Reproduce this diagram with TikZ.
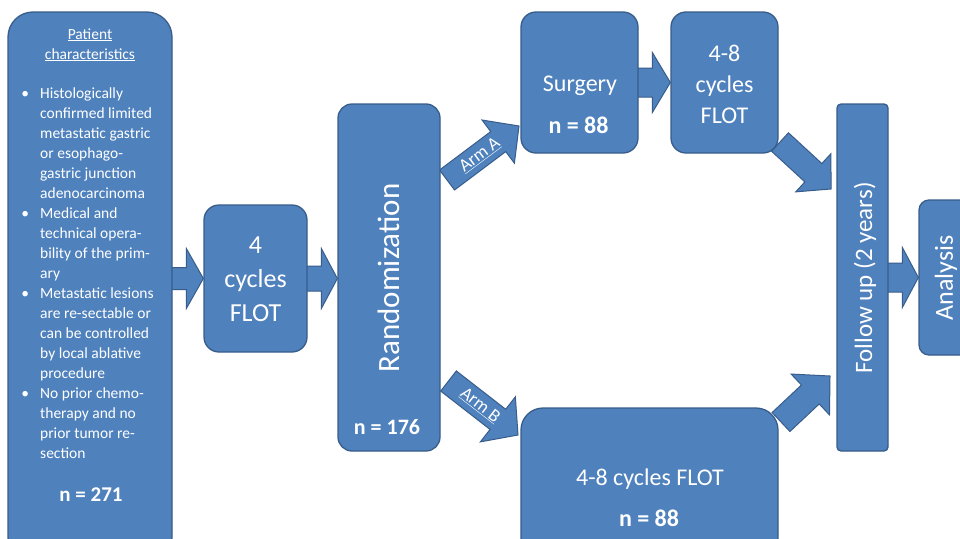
\documentclass[tikz,border=0pt]{standalone}
\usepackage{fontspec}
\setmainfont{Carlito}
\usetikzlibrary{calc,backgrounds}
\definecolor{boxfill}{RGB}{79,129,189}
\definecolor{boxline}{RGB}{56,93,138}
\newcommand\myfs[2]{\fontsize{#1}{#2}\selectfont}
\newcommand\mybul{\leavevmode\llap{\textbullet\hspace{11pt}}}
\newcommand\fatarrow[6]{%
  \coordinate (#6) at ($(#2)!#5!(#1)$);
  \draw[blockarrow] ($(#1)!#3!90:(#2)$) -- ($(#6)!#3!90:(#2)$) -- ($(#6)!#4!90:(#2)$) -- (#2)
     -- ($(#6)!#4!-90:(#2)$) -- ($(#6)!#3!-90:(#2)$) -- ($(#1)!#3!-90:(#2)$) -- cycle;}
\tikzset{
  blk/.style={draw=boxline, line width=1.3pt, fill=boxfill, rounded corners=#1, inner sep=0pt},
  blockarrow/.style={draw=boxline, line width=1pt, fill=boxfill, line join=miter},
  wt/.style={text=white, inner sep=0pt},
}
\begin{document}
\begin{tikzpicture}[x=1pt,y=-1pt]
\useasboundingbox (0,0) rectangle (960,538);
\begin{scope}
\clip (0,0) rectangle (960,538);
% boxes
\node[blk=25pt, minimum width=164pt, minimum height=550pt] (pat) at (90,287) {};
\node[blk=15pt, minimum width=103pt, minimum height=147pt] (fc) at (255.5,278.5) {};
\node[blk=14pt, minimum width=102pt, minimum height=347pt] (rnd) at (389,277.5) {};
\node[blk=15pt, minimum width=117pt, minimum height=141pt] (surg) at (579.5,82.5) {};
\node[blk=15pt, minimum width=107pt, minimum height=141pt] (flot1) at (724.5,82.5) {};
\node[blk=22pt, minimum width=257pt, minimum height=152pt] (flot2) at (649.5,484) {};
\node[blk=4pt, minimum width=51pt, minimum height=347pt] (fu) at (862.5,277.5) {};
\node[blk=10pt, minimum width=61pt, minimum height=155pt] (ana) at (949.5,277.5) {};
% texts
\node[wt, anchor=base, font=\myfs{15.5}{20}] (pt1) at (90,39) {\underline{Patient}};
\node[wt, anchor=base, font=\myfs{15.5}{20}] (pt2) at (90,59) {\underline{characteristics}};
\node[wt, anchor=north west, align=left, font=\myfs{15.5}{20}] (plist) at (40,88) {\mybul Histologically\\confirmed limited\\metastatic gastric\\or esophago-\\gastric junction\\adenocarcinoma\\\mybul Medical and\\technical opera-\\bility of the prim-\\ary\\\mybul Metastatic lesions\\are re-sectable or\\can be controlled\\by local ablative\\procedure\\\mybul No prior chemo-\\therapy and no\\prior tumor re-\\section};
\node[wt, anchor=base, font=\myfs{21}{24}\bfseries] (p271) at (91,501) {n = 271};
\node[wt, align=center, font=\myfs{26}{34}] (fct) at (255.5,279.5) {4\\cycles\\FLOT};
\node[wt, rotate=90, font=\myfs{31}{34}] (rndt) at (389,278) {Randomization};
\node[wt, anchor=base, font=\myfs{22}{26}\bfseries] (n176) at (387,434) {n = 176};
\node[wt, anchor=base, font=\myfs{24}{28}] (surgt) at (580,91) {Surgery};
\node[wt, anchor=base, font=\myfs{24}{28}\bfseries] (n88a) at (578.5,133) {n = 88};
\node[wt, align=center, font=\myfs{24}{31}] (flot1t) at (724.5,84) {4-8\\cycles\\FLOT};
\node[wt, anchor=base, font=\myfs{24}{28}] (flot2t) at (650,485) {4-8 cycles FLOT};
\node[wt, anchor=base, font=\myfs{24}{28}\bfseries] (n88b) at (649,526) {n = 88};
\node[wt, rotate=90, font=\myfs{25}{28}] (fut) at (865,278) {Follow up (2 years)};
\node[wt, rotate=90, font=\myfs{26}{28}] (anat) at (946,278) {Analysis};
\end{scope}
% connectors (block arrows) behind the boxes
\begin{scope}[on background layer]
\fill[white] (0,0) rectangle (960,538);
\coordinate (a1s) at ($(pat.east |- fc.west)+(-3,0)$);
\coordinate (a1t) at (fc.west);
\fatarrow{a1s}{a1t}{11pt}{30pt}{17pt}{a1h}
\coordinate (a2s) at ($(fc.east)+(-3,0)$);
\coordinate (a2t) at (rnd.west |- fc.east);
\fatarrow{a2s}{a2t}{12.5pt}{30pt}{16pt}{a2h}
\coordinate (a3s) at (447,180);
\coordinate (a3t) at (519,126);
\fatarrow{a3s}{a3t}{12.5pt}{27pt}{26pt}{a3h}
\coordinate (a4s) at (448.5,381);
\coordinate (a4t) at (518,435);
\fatarrow{a4s}{a4t}{12.75pt}{28.5pt}{25.5pt}{a4h}
\coordinate (a5s) at ($(surg.east)+(-3,0)$);
\coordinate (a5t) at (flot1.west);
\fatarrow{a5s}{a5t}{14.5pt}{30pt}{18pt}{a5h}
\coordinate (a6s) at (780,142);
\coordinate (a6t) at (831,189);
\fatarrow{a6s}{a6t}{12.5pt}{26pt}{24pt}{a6h}
\coordinate (a7s) at (781,422);
\coordinate (a7t) at (830,376);
\fatarrow{a7s}{a7t}{13pt}{28pt}{27pt}{a7h}
\coordinate (a8s) at ($(fu.east)+(-3,0)$);
\coordinate (a8t) at (ana.west);
\fatarrow{a8s}{a8t}{14.5pt}{30pt}{16pt}{a8h}
\end{scope}
\node[wt, font=\myfs{18}{20}, rotate=36.7] (armA) at ($(a3s)!41pt!(a3t)$) {\underline{Arm A}};
\node[wt, font=\myfs{18}{20}, rotate=-37.8] (armB) at ($(a4s)!40pt!(a4t)$) {\underline{Arm B}};
\end{tikzpicture}
\end{document}
